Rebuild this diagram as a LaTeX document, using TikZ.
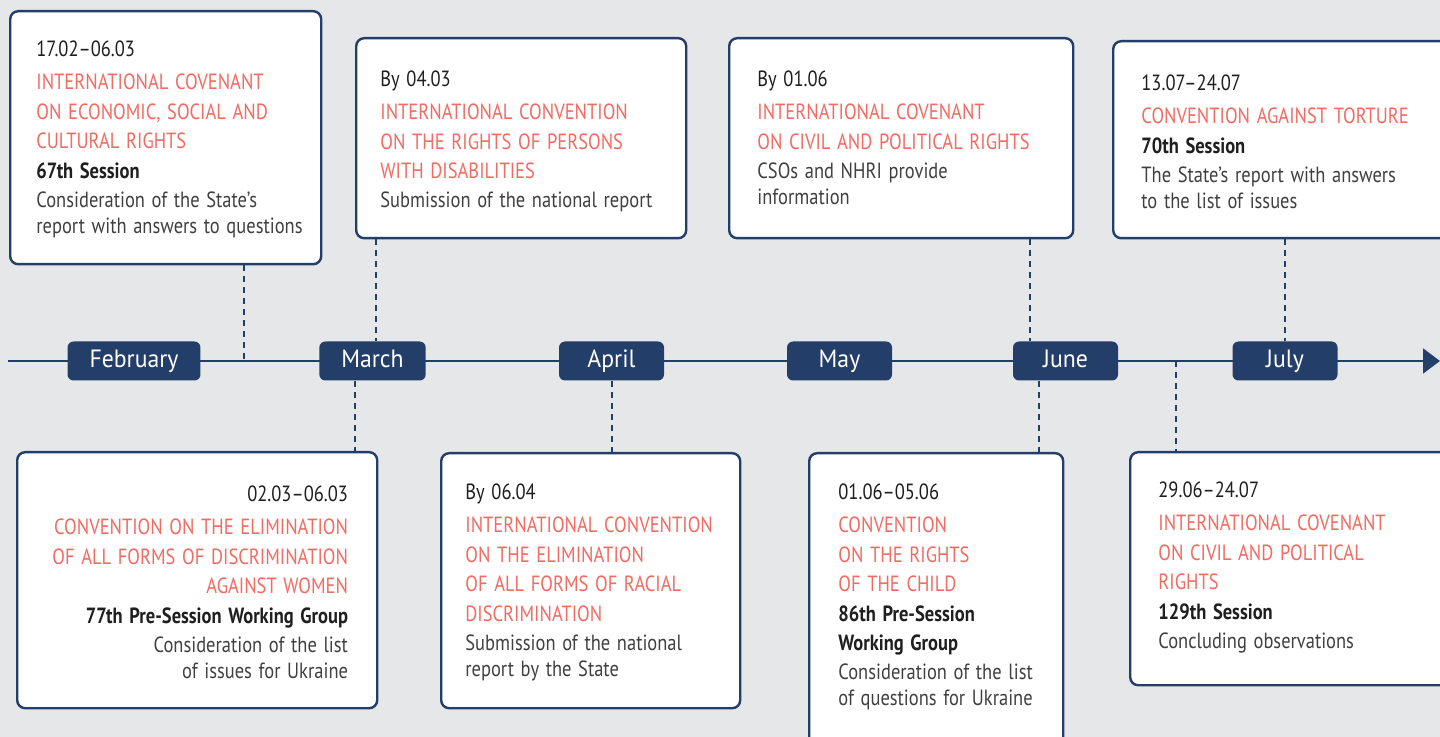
\documentclass[tikz,border=0pt]{standalone}
\usepackage{fontspec}
\setmainfont{PT Sans}[FakeStretch=0.84]
\newfontfamily\monthfam{PT Sans}[FakeStretch=0.95]
\usepackage{tikz}
\usetikzlibrary{calc,arrows.meta}
\usepackage{xcolor}
\definecolor{navy}{HTML}{243E6A}
\definecolor{coral}{HTML}{F26B63}
\definecolor{bggray}{HTML}{E6E7E9}
\definecolor{ink}{HTML}{1F1F1F}
\definecolor{greytext}{HTML}{404040}
\newcommand{\monthfont}{\monthfam\fontsize{12.5}{13}\selectfont}
\newcommand{\evdate}[1]{{\fontsize{11}{17}\selectfont\color{ink}#1\par}}
\newcommand{\evtitle}[1]{{\vspace{2.2pt}\fontsize{11}{14.75}\selectfont\color{coral}#1\par}}
\newcommand{\evsess}[1]{{\fontsize{11}{14.75}\selectfont\bfseries\color{ink}#1\par}}
\newcommand{\evnote}[1]{{\vspace{1.5pt}\fontsize{11}{13}\selectfont\color{greytext}#1\par}}
\newcommand{\evcard}[5]{\node[card, anchor=north west, minimum width={0.5pt*(#4-#2)}, minimum height={0.5pt*(#5-#3)}] (#1) at (#2,#3) {};}

\begin{document}
\begin{tikzpicture}[x=0.5pt,y=-0.5pt,
    card/.style={draw=navy, line width=1.2pt, fill=white, rounded corners=4pt, inner sep=0pt},
    txt/.style={inner sep=0pt, text width=170pt, align=left, anchor=north west},
    month/.style={fill=navy, text=white, rounded corners=3pt, minimum height=19.5pt, minimum width=52.5pt, inner xsep=11pt, text height=0.75em, text depth=0.1em, font=\monthfont},
    link/.style={navy, line width=1pt, dash pattern=on 3pt off 2.5pt},
    axis/.style={navy, line width=1pt, -{Triangle[length=8.5pt,width=12.5pt]}}]

    \fill[bggray] (0,0) rectangle (1440,737);
    \useasboundingbox (0,0) rectangle (1440,737);
    \clip (0,0) rectangle (1440,737);

    % timeline
    \coordinate (start) at (8,361);
    \coordinate (end) at (1440,361);
    \draw[axis] (start) -- (end);

    \node[month] (feb) at (134,361) {February};
    \node[month] (mar) at (372.5,361) {March};
    \node[month] (apr) at (611.5,361) {April};
    \node[month] (may) at (839.5,361) {May};
    \node[month] (jun) at (1065.5,361) {June};
    \node[month] (jul) at (1285,361) {July};

    % upper cards
    \evcard{cescr}{9}{10}{320}{263}
    \node[txt] (cescrtxt) at ([shift={(27,30)}]cescr.north west) {%
        \evdate{17.02--06.03}
        \evtitle{INTERNATIONAL COVENANT\\ON ECONOMIC, SOCIAL AND\\CULTURAL RIGHTS}
        \evsess{67th Session}
        \evnote{Consideration of the State’s\\report with answers to questions}};

    \evcard{crpd}{355}{37}{685}{237}
    \node[txt] (crpdtxt) at ([shift={(25,33)}]crpd.north west) {%
        \evdate{By 04.03}
        \evtitle{INTERNATIONAL CONVENTION\\ON THE RIGHTS OF PERSONS\\WITH DISABILITIES}
        \evnote{Submission of the national report}};

    \evcard{iccpra}{728}{37}{1072}{237}
    \node[txt] (iccpratxt) at ([shift={(29,33)}]iccpra.north west) {%
        \evdate{By 01.06}
        \evtitle{INTERNATIONAL COVENANT\\ON CIVIL AND POLITICAL RIGHTS}
        \evnote{CSOs and NHRI provide\\information}};

    \evcard{cat}{1112}{40}{1460}{237}
    \node[txt] (cattxt) at ([shift={(29,34)}]cat.north west) {%
        \evdate{13.07--24.07}
        \evtitle{CONVENTION AGAINST TORTURE}
        \evsess{70th Session}
        \evnote{The State’s report with answers\\to the list of issues}};

    % lower cards
    \evcard{cedaw}{16}{451}{376}{707}
    \node[txt, align=right, anchor=north east] (cedawtxt) at ([shift={(-30,34)}]cedaw.north east) {%
        \evdate{02.03--06.03}
        \evtitle{CONVENTION ON THE ELIMINATION\\OF ALL FORMS OF DISCRIMINATION\\AGAINST WOMEN}
        \evsess{77th Pre-Session Working Group}
        \evnote{Consideration of the list\\of issues for Ukraine}};

    \evcard{cerd}{440}{452}{739}{707}
    \node[txt] (cerdtxt) at ([shift={(25,31)}]cerd.north west) {%
        \evdate{By 06.04}
        \evtitle{INTERNATIONAL CONVENTION\\ON THE ELIMINATION\\OF ALL FORMS OF RACIAL\\DISCRIMINATION}
        \evnote{Submission of the national\\report by the State}};

    \evcard{crc}{808}{452}{1062}{760}
    \node[txt] (crctxt) at ([shift={(30,31)}]crc.north west) {%
        \evdate{01.06--05.06}
        \evtitle{CONVENTION\\ON THE RIGHTS\\OF THE CHILD}
        \evsess{86th Pre-Session\\Working Group}
        \evnote{Consideration of the list\\of questions for Ukraine}};

    \evcard{iccprb}{1129}{451}{1460}{684}
    \node[txt] (iccprbtxt) at ([shift={(29,30)}]iccprb.north west) {%
        \evdate{29.06--24.07}
        \evtitle{INTERNATIONAL COVENANT\\ON CIVIL AND POLITICAL\\RIGHTS}
        \evsess{129th Session}
        \evnote{Concluding observations}};

    % dashed links to the timeline
    \coordinate (k1) at (244,361);
    \coordinate (k2) at (376,361);
    \coordinate (k3) at (1030,361);
    \coordinate (k4) at (1285,361);
    \coordinate (k5) at (355,361);
    \coordinate (k6) at (612,361);
    \coordinate (k7) at (1039,361);
    \coordinate (k8) at (1176,361);
    \draw[link] (cescr.south -| k1) -- (k1);
    \draw[link] (crpd.south -| k2) -- (mar.north -| k2);
    \draw[link] (iccpra.south -| k3) -- (jun.north -| k3);
    \draw[link] (cat.south -| k4) -- (jul.north -| k4);
    \draw[link] (mar.south -| k5) -- (cedaw.north -| k5);
    \draw[link] (apr.south -| k6) -- (cerd.north -| k6);
    \draw[link] (jun.south -| k7) -- (crc.north -| k7);
    \draw[link] (k8) -- (iccprb.north -| k8);
\end{tikzpicture}
\end{document}
